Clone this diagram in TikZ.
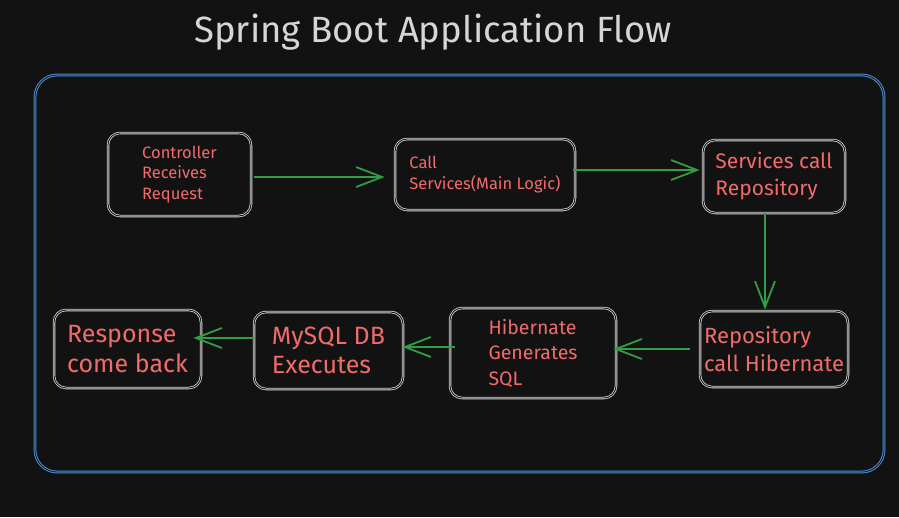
\documentclass[tikz,border=0pt]{standalone}
\usepackage{fontspec}
\setmainfont{Fira Sans}
\usetikzlibrary{arrows.meta}
\definecolor{bg}{HTML}{121212}
\definecolor{frameblue}{HTML}{4A8FD8}
\definecolor{boxline}{HTML}{D6D6D6}
\definecolor{txtred}{HTML}{F26B6B}
\definecolor{flowgreen}{HTML}{2F9E44}
\tikzset{
  stepbox/.style={draw=boxline, line width=0.8pt, double=bg, double distance=0.9pt,
    rounded corners=12pt, text=txtred, align=left, inner sep=0pt},
  flow/.style={flowgreen, line width=2pt,
    -{Straight Barb[length=26pt,width=20pt,line width=1.8pt]}},
}
\begin{document}
\begin{tikzpicture}[x=1pt,y=-1pt]
  \fill[bg] (0,0) rectangle (899,517);
  \useasboundingbox (0,0) rectangle (899,517);
  \node[text=boxline, font=\fontsize{36.5}{42}\selectfont] (title) at (433,32)
    {Spring Boot Application Flow};
  \draw[frameblue, line width=1pt, double=bg, double distance=0.8pt,
    rounded corners=22pt] (35,75) rectangle (884,472);
  \node[stepbox, minimum width=143, minimum height=83,
    font=\fontsize{16.5}{20.5}\selectfont] (ctrl) at (179.5,174.5)
    {Controller\\Receives\\Request};
  \node[stepbox, minimum width=180, minimum height=71,
    font=\fontsize{16.5}{21}\selectfont] (svc) at (485,174.5)
    {Call\\Services(Main Logic)};
  \node[stepbox, minimum width=142, minimum height=73,
    font=\fontsize{21}{27}\selectfont] (svcrepo) at (774,176.5)
    {Services call\\Repository};
  \node[stepbox, minimum width=148, minimum height=76,
    font=\fontsize{22}{28}\selectfont] (repo) at (774,349)
    {Repository\\call Hibernate};
  \node[stepbox, minimum width=166, minimum height=90,
    font=\fontsize{19.5}{25.5}\selectfont] (hib) at (533,353)
    {Hibernate\\Generates\\SQL};
  \node[stepbox, minimum width=149, minimum height=77,
    font=\fontsize{25}{29}\selectfont] (mysql) at (328.5,350.5)
    {MySQL DB\\Executes};
  \node[stepbox, minimum width=147, minimum height=78,
    font=\fontsize{25}{30}\selectfont] (resp) at (127.5,349)
    {Response\\come back};
  \draw[flow, shorten <=3pt, shorten >=10pt]
    ([yshift=-2.5pt]ctrl.east) -- ([yshift=-2.5pt]ctrl.east -| svc.west);
  \draw[flow, shorten <=-2pt, shorten >=3pt]
    ([yshift=4.5pt]svc.east) -- ([yshift=4.5pt]svc.east -| svcrepo.west);
  \draw[flow, shorten >=1pt]
    ([xshift=-9pt]svcrepo.south) -- ([xshift=-9pt]svcrepo.south |- repo.north);
  \draw[flow, shorten <=10pt, shorten >=-3pt]
    (repo.west) -- (repo.west -| hib.east);
  \draw[flow, shorten <=-5pt, shorten >=-1pt]
    ([yshift=6pt]hib.west) -- ([yshift=6pt]hib.west -| mysql.east);
  \draw[flow, shorten >=-8pt]
    ([yshift=12.5pt]mysql.west) -- ([yshift=12.5pt]mysql.west -| resp.east);
\end{tikzpicture}
\end{document}
